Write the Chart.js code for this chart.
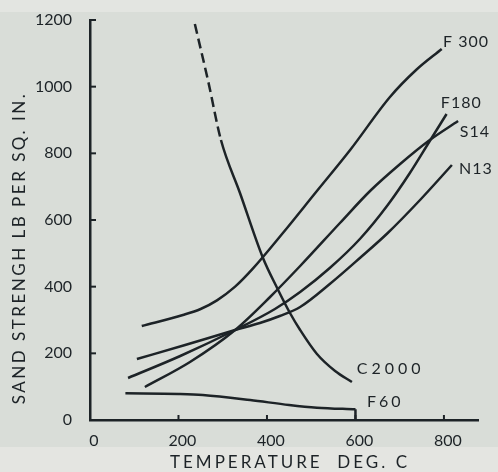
<!DOCTYPE html>
<html>
<head>
<meta charset="utf-8">
<title>Sand strength vs temperature</title>
<script src="https://cdn.jsdelivr.net/npm/chart.js@4.4.0/dist/chart.umd.min.js"></script>
<style>
    html, body { margin: 0; padding: 0; }
    body {
        width: 498px;
        height: 472px;
        background: linear-gradient(to bottom, #e3e5e1 0, #e3e5e1 12px, #d9ddd8 12px, #d9ddd8 447px, #e4e5e1 447px);
    }
    canvas { display: block; }
</style>
</head>
<body>
<canvas id="sandChart" width="498" height="472"></canvas>
<script>
// Sand strength (lb per sq. in.) against temperature (deg C)

const tempF300 = [117, 210, 250, 287, 328, 368, 436, 511, 588, 678, 737, 795];
const strengthF300 = [282, 315, 333, 359, 400, 454, 561, 684, 810, 969, 1050, 1113];

const tempF180 = [86, 204, 328, 418, 475, 542, 610, 673, 723, 768, 806];
const strengthF180 = [126, 192, 270, 333, 384, 456, 543, 645, 741, 837, 918];

const tempS14 = [124, 226, 328, 407, 475, 565, 633, 701, 768, 832];
const strengthS14 = [99, 174, 270, 369, 462, 591, 687, 768, 840, 897];

const tempN13 = [106, 215, 328, 384, 429, 475, 542, 610, 673, 746, 818];
const strengthN13 = [183, 225, 270, 291, 312, 339, 408, 486, 561, 660, 765];

// first points of C2000 are dashed (extrapolated)
const tempC2000 = [237, 267, 296, 339, 391, 423, 452, 475, 513, 554, 592];
const strengthC2000 = [1188, 1017, 840, 681, 486, 396, 321, 270, 198, 147, 114];
const c2000DashedPoints = 3;

const tempF60 = [80, 200, 255, 362, 450, 513, 600];
const strengthF60 = [80, 78, 75, 60, 45, 37, 32];
const tempF60End = [600, 600];
const strengthF60End = [32, 0];

const xTicks = [0, 200, 400, 600, 800];
const yTicks = [0, 200, 400, 600, 800, 1000, 1200];

const labelText = ['F 300', 'F180', 'S14', 'N13', 'C2000', 'F60'];
const labelTemp = [798, 793, 836, 834, 603, 626];
const labelStrength = [1134, 951, 864, 753, 153, 54];

const inkColor = '#1d2327';
const fontFamily = 'Lato, "DejaVu Sans", sans-serif';
// the two lower names are set wider in the original
const wideLabels = { 'C2000': '4px', 'F60': '3px' };

function toPoints(xs, ys) {
    return xs.map((x, i) => ({ x: x, y: ys[i] }));
}

function curve(label, xs, ys, extra) {
    return Object.assign({
        label: label,
        data: toPoints(xs, ys),
        borderColor: inkColor,
        borderWidth: 2.5,
        pointRadius: 0,
        fill: false,
        cubicInterpolationMode: 'monotone'
    }, extra || {});
}

// ticks point into the plot, like the original drawing
const innerTicks = {
    id: 'innerTicks',
    afterDatasetsDraw(chart) {
        const ctx = chart.ctx;
        const xs = chart.scales.x;
        const ys = chart.scales.y;
        const area = chart.chartArea;
        ctx.save();
        ctx.strokeStyle = inkColor;
        ctx.lineWidth = 2;
        yTicks.forEach(v => {
            if (v === 0) return;
            const py = ys.getPixelForValue(v);
            ctx.beginPath();
            ctx.moveTo(area.left, py);
            ctx.lineTo(area.left + 6, py);
            ctx.stroke();
        });
        xTicks.forEach(v => {
            if (v === 0) return;
            const px = xs.getPixelForValue(v);
            ctx.beginPath();
            ctx.moveTo(px, area.bottom);
            ctx.lineTo(px, area.bottom - 5);
            ctx.stroke();
        });
        ctx.restore();
    }
};

// curve names and axis titles (spaced capitals)
const textLabels = {
    id: 'textLabels',
    afterDraw(chart) {
        const ctx = chart.ctx;
        const xs = chart.scales.x;
        const ys = chart.scales.y;
        const area = chart.chartArea;
        ctx.save();
        ctx.fillStyle = inkColor;
        ctx.font = '16px ' + fontFamily;
        ctx.textAlign = 'left';
        ctx.textBaseline = 'middle';
        labelText.forEach((t, i) => {
            ctx.letterSpacing = wideLabels[t] || '1px';
            ctx.fillText(t, xs.getPixelForValue(labelTemp[i]), ys.getPixelForValue(labelStrength[i]));
        });

        ctx.font = '17px ' + fontFamily;
        ctx.letterSpacing = '3px';
        ctx.textAlign = 'center';
        ctx.fillText('TEMPERATURE  DEG. C', (area.left + area.right) / 2 + 6, chart.height - 9);

        ctx.letterSpacing = '2.5px';
        ctx.translate(20, (area.top + area.bottom) / 2 + 28);
        ctx.rotate(-Math.PI / 2);
        ctx.fillText('SAND STRENGH LB PER SQ. IN.', 0, 0);
        ctx.restore();
    }
};

const sandChart = new Chart(document.getElementById('sandChart'), {
    type: 'line',
    data: {
        datasets: [
            curve('F 300', tempF300, strengthF300),
            curve('F180', tempF180, strengthF180),
            curve('S14', tempS14, strengthS14),
            curve('N13', tempN13, strengthN13),
            curve('C2000', tempC2000, strengthC2000, {
                segment: {
                    borderDash: ctx => ctx.p1DataIndex < c2000DashedPoints ? [10, 5] : undefined
                }
            }),
            curve('F60', tempF60, strengthF60),
            curve('F60 end', tempF60End, strengthF60End, { cubicInterpolationMode: 'default', tension: 0 })
        ]
    },
    options: {
        responsive: false,
        animation: false,
        layout: {
            padding: { top: 20, right: 20, left: 0, bottom: 0 }
        },
        plugins: {
            legend: { display: false },
            tooltip: { enabled: false }
        },
        scales: {
            x: {
                type: 'linear',
                min: 0,
                max: 877,
                grid: { display: false },
                border: { display: true, color: inkColor, width: 2.5 },
                afterBuildTicks: scale => {
                    scale.ticks = xTicks.map(v => ({ value: v }));
                },
                afterFit: scale => { scale.height = 52; },
                ticks: {
                    color: inkColor,
                    padding: 3,
                    labelOffset: 4,
                    font: { family: fontFamily, size: 16 },
                    callback: v => String(v)
                }
            },
            y: {
                type: 'linear',
                min: 0,
                max: 1200,
                grid: { display: false },
                border: { display: true, color: inkColor, width: 2.5 },
                afterBuildTicks: scale => {
                    scale.ticks = yTicks.map(v => ({ value: v }));
                },
                afterFit: scale => { scale.width = 90; },
                ticks: {
                    color: inkColor,
                    padding: 10,
                    font: { family: fontFamily, size: 16 },
                    callback: v => String(v)
                }
            }
        }
    },
    plugins: [innerTicks, textLabels]
});
</script>
</body>
</html>
